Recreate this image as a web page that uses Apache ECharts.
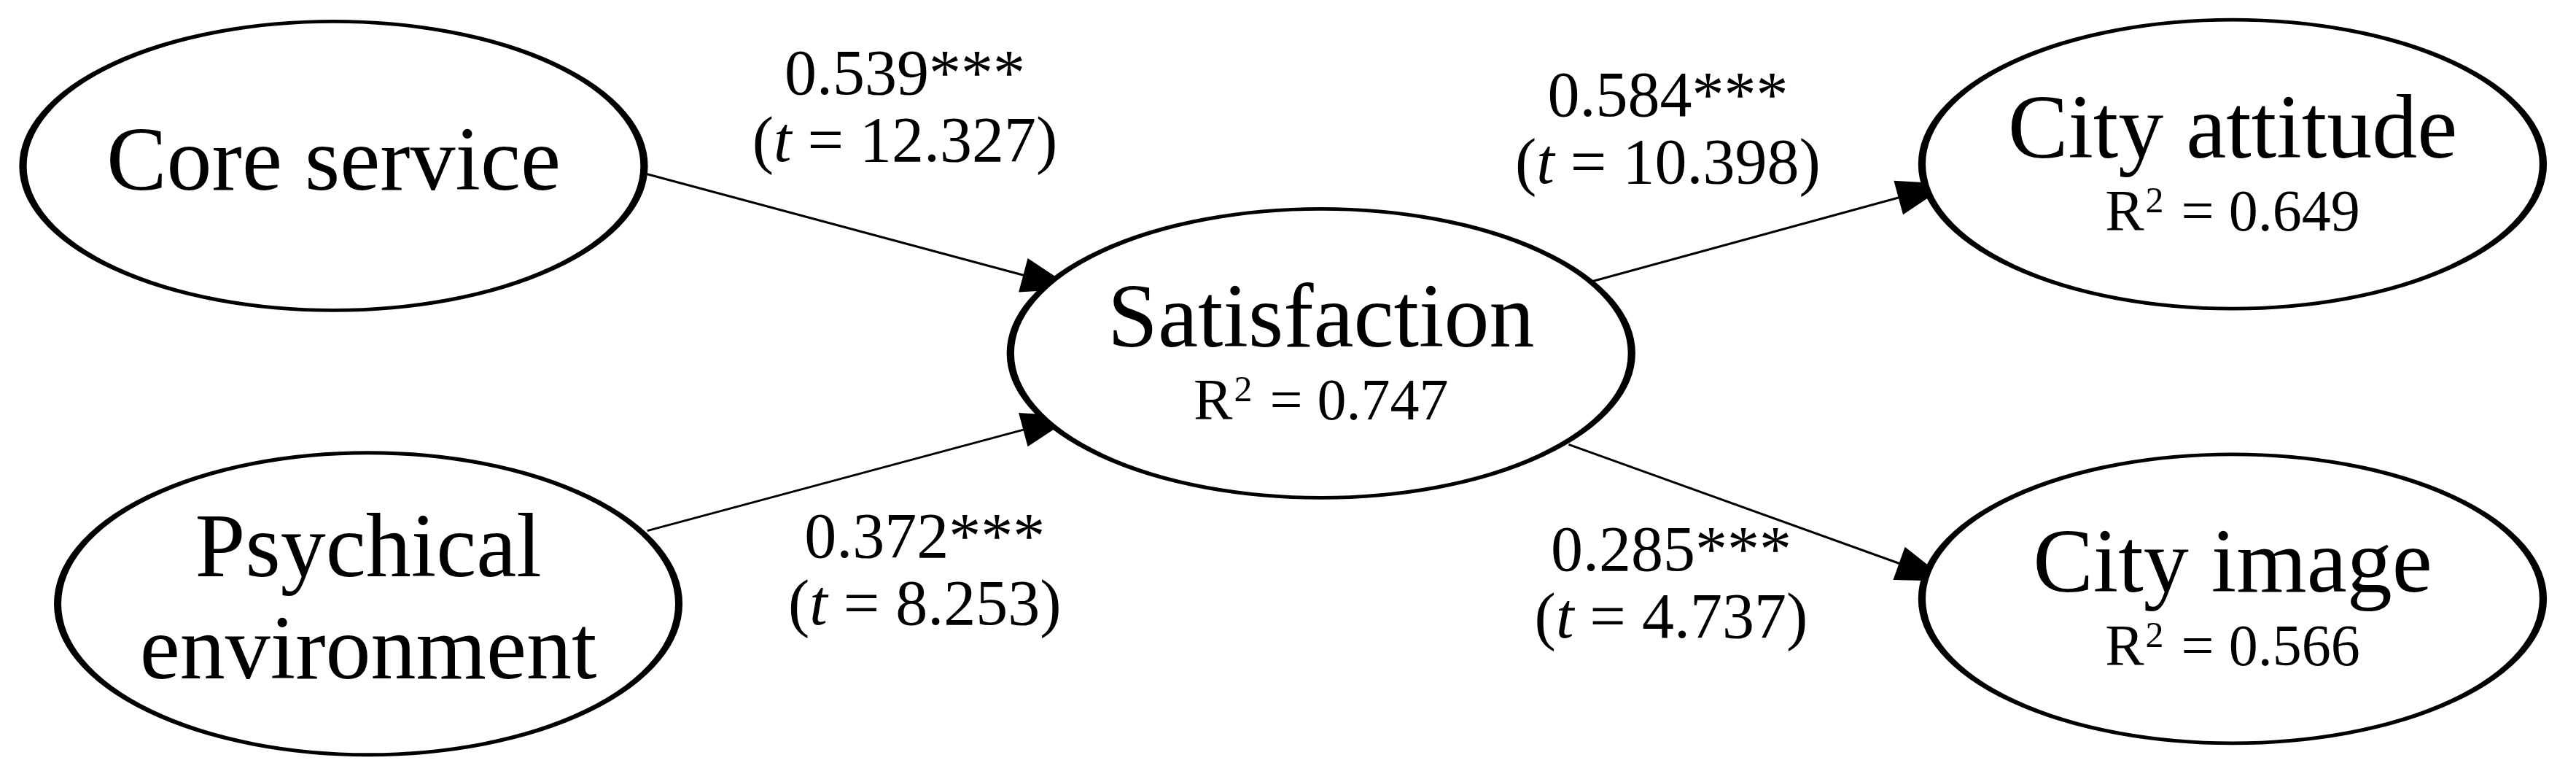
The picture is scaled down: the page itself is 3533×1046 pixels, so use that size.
<!DOCTYPE html>
<html>
<head>
<meta charset="utf-8">
<script src="https://cdn.jsdelivr.net/npm/echarts@6/dist/echarts.min.js"></script>
<style>html,body{margin:0;background:#fff}#chart{width:3533px;height:1046px}</style>
</head>
<body>
<div id="chart"></div>
<script>
// Knoten (Konstrukte) in Bildkoordinaten 0..1560 x 0..460
const nodeNames = ['Core service', 'Psychical\nenvironment', 'Satisfaction', 'City attitude', 'City image'];
const nodeX = [202, 223, 800, 1352, 1352];
const nodeY = [100, 364, 213, 99, 361];
const nodeR2 = [null, null, '0.747', '0.649', '0.566'];

// Pfade: Start- und Endpunkt der Pfeile
const pathFrom = [[392, 105], [392, 320], [963, 170], [950, 268]];
const pathTo = [[635, 170], [635, 255], [1165, 115], [1165, 345]];
const pathBeta = ['0.539***', '0.372***', '0.584***', '0.285***'];
const pathT = ['12.327', '8.253', '10.398', '4.737'];
const labelPos = [[548, 67], [560, 346], [1010, 80], [1012, 354]];

const font = 'Liberation Serif';

const nodes = nodeNames.map((n, i) => ({
  value: [nodeX[i], nodeY[i]],
  name: n,
  r2: nodeR2[i]
}));

const chart = echarts.init(document.getElementById('chart'));
chart.setOption({
  animation: false,
  grid: { left: 0, right: 0, top: 0, bottom: 0 },
  xAxis: { type: 'value', min: 0, max: 1560, show: false },
  yAxis: { type: 'value', min: 0, max: 460, inverse: true, show: false },
  series: [
    {
      type: 'lines',
      coordinateSystem: 'cartesian2d',
      polyline: false,
      symbol: ['none', 'triangle'],
      symbolSize: [0, [48, 72]],
      lineStyle: { color: '#000', width: 3, opacity: 1 },
      itemStyle: { color: '#000' },
      data: pathFrom.map((p, i) => ({ coords: [p, pathTo[i]] })),
      z: 1
    },
    {
      type: 'scatter',
      symbol: 'circle',
      symbolSize: (v, p) => p.dataIndex === 1 ? [852, 414] : [852, 396],
      itemStyle: { color: '#fff', borderColor: '#000', borderWidth: 7, opacity: 1 },
      label: {
        show: true,
        position: 'inside',
        fontFamily: font,
        color: '#000',
        formatter: p => p.data.r2
          ? '{n|' + p.data.name + '}\n{r|R}{s|2}{r| = ' + p.data.r2 + '}'
          : '{n|' + p.data.name + '}',
        rich: {
          n: { fontFamily: font, fontSize: 124, lineHeight: 140, color: '#000' },
          r: { fontFamily: font, fontSize: 80, lineHeight: 84, color: '#000' },
          s: { fontFamily: font, fontSize: 50, lineHeight: 84, color: '#000', verticalAlign: 'top', padding: [0, 4, 30, 2] }
        }
      },
      emphasis: { disabled: true },
      data: nodes,
      z: 2
    },
    {
      type: 'scatter',
      symbolSize: 0,
      itemStyle: { opacity: 1 },
      label: {
        show: true,
        position: 'inside',
        color: '#000',
        formatter: p => '{a|' + pathBeta[p.dataIndex] + '}\n{a|(}{i|t}{a| = ' + pathT[p.dataIndex] + ')}',
        rich: {
          a: { fontFamily: font, fontSize: 88, lineHeight: 92, color: '#000' },
          i: { fontFamily: font, fontSize: 88, lineHeight: 92, fontStyle: 'italic', color: '#000' }
        }
      },
      emphasis: { disabled: true },
      data: labelPos,
      z: 3
    }
  ]
});
</script>
</body>
</html>
